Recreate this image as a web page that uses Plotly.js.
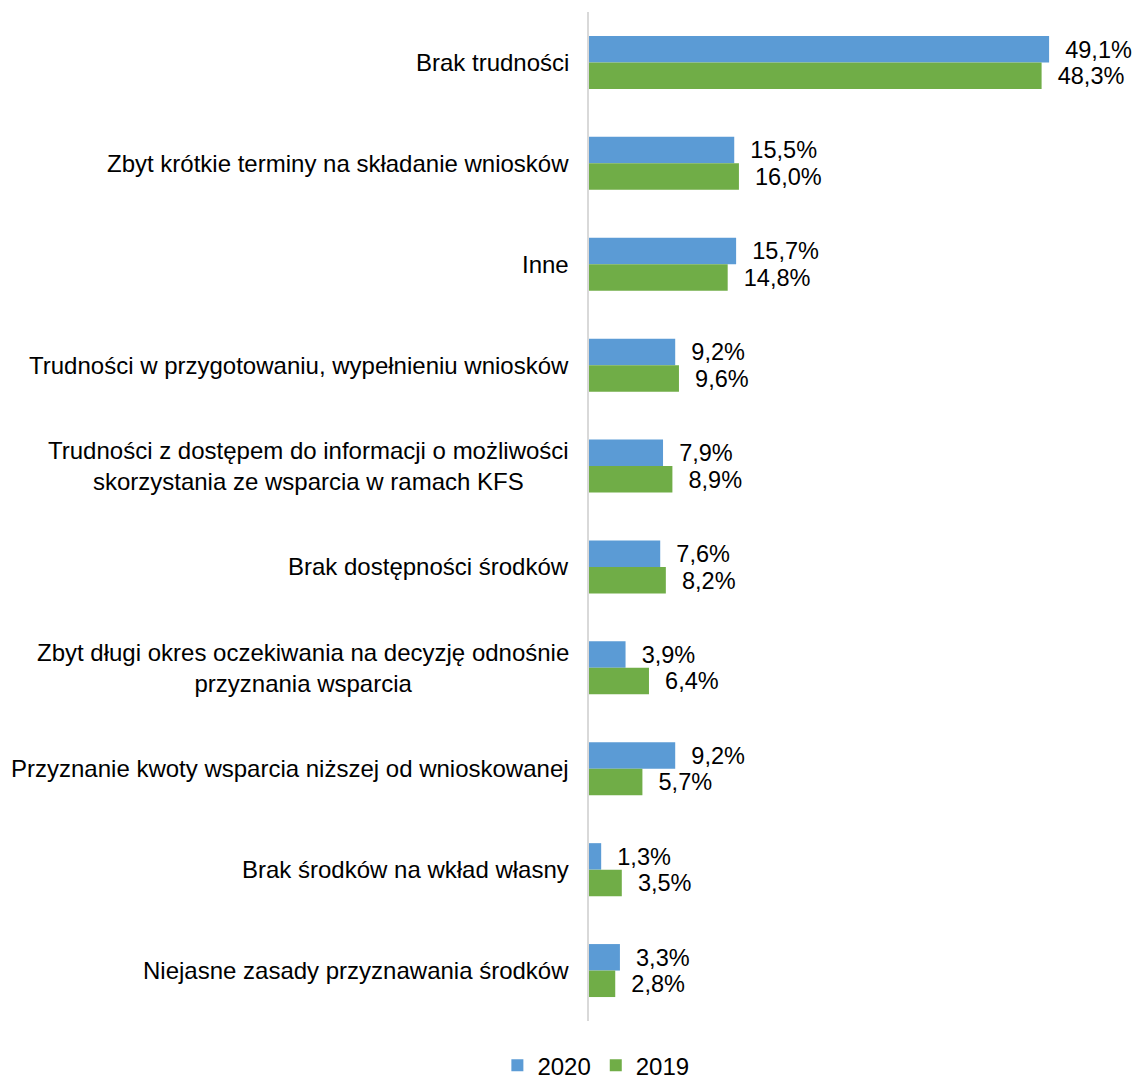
<!DOCTYPE html>
<html>
<head>
<meta charset="utf-8">
<script src="https://cdn.plot.ly/plotly-3.0.1.min.js"></script>
<style>html,body{margin:0;padding:0;background:#fff;}#chart{width:1135px;height:1079px;}</style>
</head>
<body>
<div id="chart"></div>
<script>
const categories = [
  "Brak trudności",
  "Zbyt krótkie terminy na składanie wniosków",
  "Inne",
  "Trudności w przygotowaniu, wypełnieniu wniosków",
  "Trudności z dostępem do informacji o możliwości<br>skorzystania ze wsparcia w ramach KFS",
  "Brak dostępności środków",
  "Zbyt długi okres oczekiwania na decyzję odnośnie<br>przyznania wsparcia",
  "Przyznanie kwoty wsparcia niższej od wnioskowanej",
  "Brak środków na wkład własny",
  "Niejasne zasady przyznawania środków"
];
const values2020 = [49.1, 15.5, 15.7, 9.2, 7.9, 7.6, 3.9, 9.2, 1.3, 3.3];
const values2019 = [48.3, 16.0, 14.8, 9.6, 8.9, 8.2, 6.4, 5.7, 3.5, 2.8];
const seriesNames = ["2020", "2019"];

const fmt = v => "  " + v.toFixed(1).replace(".", ",") + "%";
const font = {family: "Liberation Sans, Arial, sans-serif", size: 24, color: "#000"};

const traces = [
  {type: "bar", orientation: "h", name: seriesNames[0], y: categories, x: values2020,
   marker: {color: "#5b9bd5"}, text: values2020.map(fmt), textposition: "outside",
   textfont: font, cliponaxis: false, hoverinfo: "none"},
  {type: "bar", orientation: "h", name: seriesNames[1], y: categories, x: values2019,
   marker: {color: "#70ad47"}, text: values2019.map(fmt), textposition: "outside",
   textfont: font, cliponaxis: false, hoverinfo: "none"}
];

const annotations = categories.map(c => ({
  xref: "paper", x: 0, xshift: -18, xanchor: "right",
  yref: "y", y: c, text: c, align: "center", showarrow: false, font: font
}));

const layout = {
  width: 1135, height: 1079,
  margin: {l: 589, r: 10, t: 12, b: 58, autoexpand: false},
  paper_bgcolor: "#fff", plot_bgcolor: "#fff",
  barmode: "group", bargap: 0.475, bargroupgap: 0,
  font: font,
  showlegend: true,
  legend: {orientation: "h", xref: "container", yref: "paper", x: 0.525, xanchor: "center",
           y: -0.022, yanchor: "top", font: font, traceorder: "normal", itemwidth: 30},
  xaxis: {range: [0, 57.2], showgrid: false, zeroline: false, showticklabels: false, showline: false, fixedrange: true},
  yaxis: {type: "category", autorange: "reversed", showticklabels: false, showgrid: false,
          zeroline: false, showline: true, linecolor: "#d9d9d9", linewidth: 2, ticks: ""},
  annotations: annotations
};

Plotly.newPlot("chart", traces, layout, {displayModeBar: false, staticPlot: true});
</script>
</body>
</html>
